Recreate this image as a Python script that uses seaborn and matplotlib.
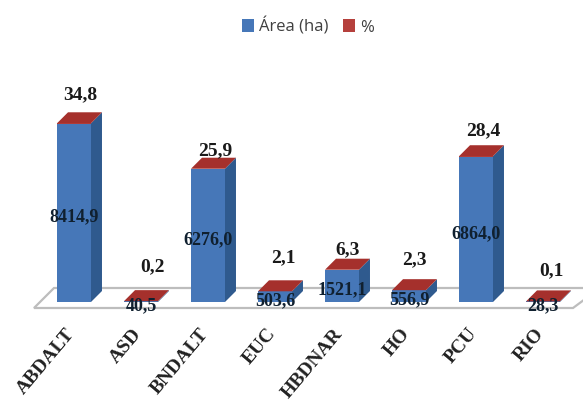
import matplotlib
matplotlib.use("Agg")
import matplotlib.pyplot as plt
from matplotlib.patches import Polygon
from matplotlib.transforms import ScaledTranslation
import seaborn as sns

categories = ["ABDALT", "ASD", "BNDALT", "EUC", "HBDNAR", "HO", "PCU", "RIO"]
area_ha = [8414.9, 40.5, 6276.0, 503.6, 1521.1, 556.9, 6864.0, 28.3]
percent = [34.8, 0.2, 25.9, 2.1, 6.3, 2.3, 28.4, 0.1]

BLUE, BLUE_SIDE = "#4677b8", "#2f5a8e"
RED, RED_TOP = "#b5403c", "#a5302c"
SERIF = ["Liberation Serif", "DejaVu Serif"]

W, H = 583, 402
BASE_PX, AXES_BOTTOM_PX = 303, 322
PX_PER_UNIT = 0.02115
PX_PER_CAT = 67
DEPTH_X = 11 / PX_PER_CAT
DEPTH_Y = 11 / PX_PER_UNIT

sns.set_theme(style="white")
fig = plt.figure(figsize=(W / 100, H / 100), dpi=100, facecolor="white")
ax = fig.add_axes([0, (H - AXES_BOTTOM_PX) / H, 1, AXES_BOTTOM_PX / H])
ax.patch.set_visible(False)

# Floor of the pseudo-3D plot, in figure pixels
floor_px = [(34, 309), (54, 289), (600, 289), (573, 309)]
fig.add_artist(Polygon([(x / W, 1 - y / H) for x, y in floor_px],
                       closed=True, transform=fig.transFigure,
                       facecolor="white", edgecolor="#bdbdbd", lw=1.6, zorder=0))

sns.barplot(x=categories, y=area_ha, color=BLUE, saturation=1, width=0.507,
            label="Área (ha)", ax=ax, zorder=3, edgecolor="none", linewidth=0)
fronts = list(ax.patches)
sns.barplot(x=categories, y=percent, bottom=area_ha, color=RED, saturation=1,
            width=0.507, label="%", ax=ax, zorder=3, edgecolor="none", linewidth=0)

ax.set_xlim(-74 / PX_PER_CAT, (W - 74) / PX_PER_CAT)
ax.set_ylim((BASE_PX - AXES_BOTTOM_PX) / PX_PER_UNIT, BASE_PX / PX_PER_UNIT)

# Side and top faces extruded from each front rectangle
for bar, value, pct in zip(fronts, area_ha, percent):
    x0, x1 = bar.get_x(), bar.get_x() + bar.get_width()
    top = value + pct
    ax.add_patch(Polygon([(x1, 0), (x1 + DEPTH_X, DEPTH_Y),
                          (x1 + DEPTH_X, top + DEPTH_Y), (x1, top)],
                         closed=True, facecolor=BLUE_SIDE, edgecolor="none", zorder=2))
    ax.add_patch(Polygon([(x0, top), (x0 + DEPTH_X, top + DEPTH_Y),
                          (x1 + DEPTH_X, top + DEPTH_Y), (x1, top)],
                         closed=True, facecolor=RED_TOP, edgecolor="none", zorder=4))

# Hand-placed value labels: offsets in pixels from the bar's top-back centre
pct_offsets = [(1, 19), (6, 24), (2, 8), (3, 24), (0, 10), (0, 20), (2, 15), (3, 21)]
for i, (value, pct) in enumerate(zip(area_ha, percent)):
    ax.annotate(f"{value:.1f}".replace(".", ","), (i, value / 2),
                xytext=(0, -3), textcoords="offset pixels", ha="center", va="center",
                fontsize=13, family=SERIF, fontweight="bold", color="#10202f", zorder=6)
    dx, dy = pct_offsets[i]
    ax.annotate(f"{pct:.1f}".replace(".", ","), (i + DEPTH_X / 2, value + pct + DEPTH_Y),
                xytext=(dx, dy), textcoords="offset pixels", ha="center", va="center",
                fontsize=14, family=SERIF, fontweight="bold", color="#1a1a1a", zorder=6)

ax.set_yticks([])
ax.set_xlabel("")
ax.tick_params(axis="x", length=0, pad=6)
ax.set_xticks(range(len(categories)))
ax.set_xticklabels(categories, rotation=50, ha="right", rotation_mode="anchor",
                   fontsize=14, family=SERIF, fontweight="bold", color="#222222")
tick_shift = ScaledTranslation(-9 / 100, 5 / 100, fig.dpi_scale_trans)
for label in ax.get_xticklabels():
    label.set_transform(label.get_transform() + tick_shift)
sns.despine(ax=ax, left=True, bottom=True)

leg = ax.legend(loc="center", bbox_to_anchor=(308 / W, 1 - 27 / H),
                bbox_transform=fig.transFigure, ncols=2, frameon=False,
                handlelength=0.7, handleheight=0.8, handletextpad=0.3,
                columnspacing=0.9, prop={"family": ["Open Sans"], "size": 12})
for text in leg.get_texts():
    text.set_color("#404040")

fig.savefig("out.png", dpi=100)
